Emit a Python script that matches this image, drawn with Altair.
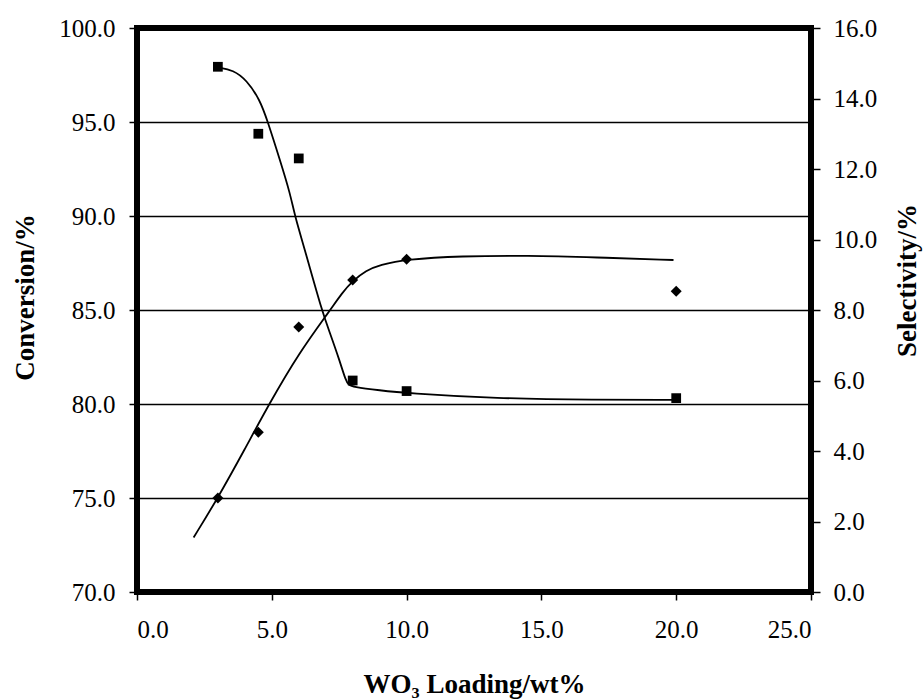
import altair as alt
import pandas as pd

# measured points
x_pts = [3.0, 4.5, 6.0, 8.0, 10.0, 20.0]
conv_pts = [75.0, 78.5, 84.1, 86.6, 87.7, 86.0]
sel_pts = [14.9, 13.0, 12.3, 6.0, 5.7, 5.5]

# fitted curves as drawn in the figure
conv_curve_x = [2.1, 3.0, 4.0, 4.9, 6.0, 7.17, 7.6, 8.0, 8.5, 9.0, 10.0, 12.0, 14.5, 17.0, 19.9]
conv_curve_y = [72.9, 75.0, 77.6, 80.0, 82.7, 85.0, 85.9, 86.55, 87.1, 87.4, 87.7, 87.87, 87.9, 87.8, 87.66]
sel_curve_x = [3.0, 3.57, 4.07, 4.56, 4.83, 5.30, 5.68, 5.86, 6.23, 6.85, 7.16, 7.5, 7.75, 7.85, 8.0, 9.0, 10.0, 13.3, 17.0, 19.9]
sel_curve_y = [14.88, 14.81, 14.52, 13.96, 13.39, 12.26, 11.31, 10.65, 9.70, 8.0, 7.34, 6.6, 5.98, 5.88, 5.82, 5.72, 5.64, 5.49, 5.45, 5.45]

x_ticks = [0, 5, 10, 15, 20, 25]
conv_ticks = [70, 75, 80, 85, 90, 95, 100]
sel_ticks = [0, 2, 4, 6, 8, 10, 12, 14, 16]

pts = pd.DataFrame({"x": x_pts, "conv": conv_pts, "sel": sel_pts})
conv_curve = pd.DataFrame({"x": conv_curve_x, "conv": conv_curve_y})
sel_curve = pd.DataFrame({"x": sel_curve_x, "sel": sel_curve_y})

FONT = "Liberation Serif"
LAB = 25

x_enc = alt.X(
    "x:Q",
    scale=alt.Scale(domain=[0, 25], nice=False, zero=False),
    axis=alt.Axis(
        values=x_ticks, format=".1f", title="WO₃ Loading/wt%",
        grid=False, domain=False, tickColor="black", tickSize=8, tickWidth=1.5,
        labelPadding=17, labelFontSize=LAB, labelFont=FONT, labelColor="black",
        titleFont=FONT, titleFontSize=27, titleFontWeight="bold", titleColor="black",
        titleX=337, titleY=92, titleBaseline="middle", titleAlign="center",
    ),
)

conv_axis = alt.Axis(
    values=conv_ticks, format=".1f", title="Conversion/%", orient="left",
    grid=True, gridColor="black", gridWidth=1.3, gridOpacity=1,
    domain=False, tickColor="black", tickSize=8, tickWidth=1.5,
    labelPadding=14, labelFontSize=LAB, labelFont=FONT, labelColor="black",
    titleFont=FONT, titleFontSize=27, titleFontWeight="bold", titleColor="black",
    titleAngle=270, titleX=-112, titleY=269, titleBaseline="middle", titleAlign="center",
)
sel_axis = alt.Axis(
    values=sel_ticks, format=".1f", title="Selectivity/%", orient="right",
    grid=False, domain=False, tickColor="black", tickSize=9, tickWidth=1.5,
    labelPadding=13, labelFontSize=LAB, labelFont=FONT, labelColor="black",
    titleFont=FONT, titleFontSize=27, titleFontWeight="bold", titleColor="black",
    titleAngle=270, titleX=96, titleY=252, titleBaseline="middle", titleAlign="center",
)

conv_scale = alt.Scale(domain=[70, 100], nice=False, zero=False)
sel_scale = alt.Scale(domain=[0, 16], nice=False, zero=False)

conv_line = alt.Chart(conv_curve).mark_line(
    color="black", strokeWidth=1.8, interpolate="basis", clip=True
).encode(x=x_enc, y=alt.Y("conv:Q", scale=conv_scale, axis=conv_axis))
conv_pt = alt.Chart(pts).mark_point(
    shape="diamond", filled=True, color="black", size=120, opacity=1
).encode(x=x_enc, y=alt.Y("conv:Q", scale=conv_scale, axis=conv_axis))

sel_line = alt.Chart(sel_curve).mark_line(
    color="black", strokeWidth=1.8, interpolate="basis", clip=True
).encode(x=x_enc, y=alt.Y("sel:Q", scale=sel_scale, axis=sel_axis))
sel_pt = alt.Chart(pts).mark_point(
    shape="square", filled=True, color="black", size=95, opacity=1
).encode(x=x_enc, y=alt.Y("sel:Q", scale=sel_scale, axis=sel_axis))

left = alt.layer(conv_line, conv_pt)
right = alt.layer(sel_line, sel_pt)

chart = (
    alt.layer(left, right)
    .resolve_scale(y="independent")
    .properties(
        width=674, height=564,
        padding={"left": 137, "top": 28, "right": 113, "bottom": 108},
        autosize=alt.AutoSizeParams(type="none"),
        background="white",
    )
    .configure_view(stroke="black", strokeWidth=6)
)

chart.save("out.html", embed_options={"renderer": "svg", "actions": False})
